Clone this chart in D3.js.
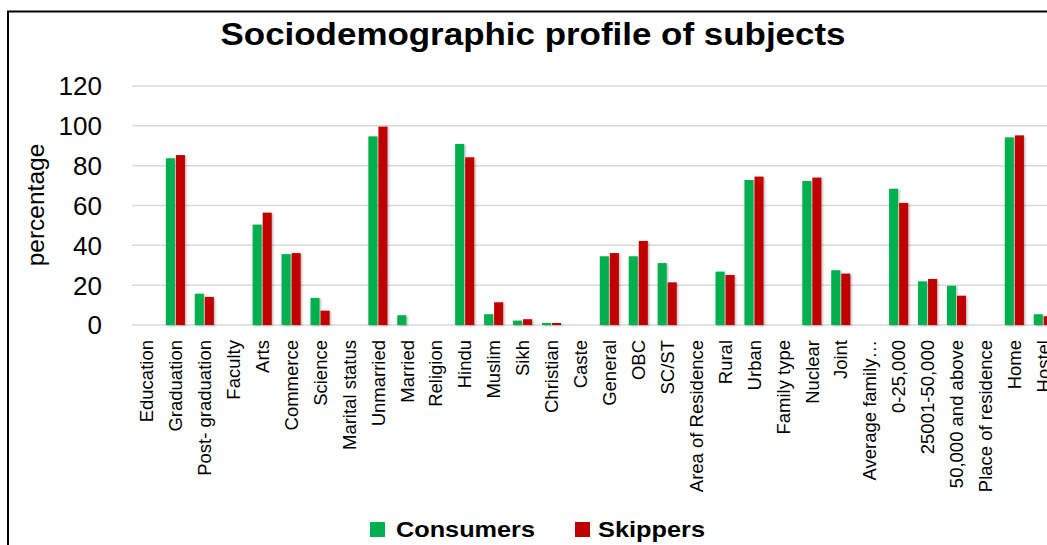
<!DOCTYPE html>
<html>
<head>
<meta charset="utf-8">
<script src="https://cdn.jsdelivr.net/npm/d3@7"></script>
<style>
  html, body { margin: 0; padding: 0; background: #fff; overflow: hidden; }
  svg { display: block; }
</style>
</head>
<body>
<svg id="chart" width="1047" height="545"></svg>
<script>
const categories = ["Education","Graduation","Post- graduation","Faculty","Arts","Commerce","Science",
  "Marital status","Unmarried","Married","Religion","Hindu","Muslim","Sikh","Christian","Caste",
  "General","OBC","SC/ST","Area of Residence","Rural","Urban","Family type","Nuclear","Joint",
  "Average family…","0-25,000","25001-50,000","50,000 and above","Place of residence","Home","Hostel"];
const consumers = [null,83.7,15.7,null,50.4,35.6,13.6,
  null,94.7,4.9,null,90.9,5.4,2.2,1.0,null,
  34.5,34.5,31.1,null,26.8,72.8,null,72.3,27.5,
  null,68.4,21.9,19.7,null,94.2,5.4];
const skippers = [null,85.3,14.1,null,56.4,36.1,7.2,
  null,99.6,null,null,84.2,11.4,2.9,1.0,null,
  36.1,42.2,21.4,null,25.1,74.5,null,74.0,25.8,
  null,61.3,23.1,14.7,null,95.2,4.4];
const seriesNames = ["Consumers","Skippers"];
const seriesColors = ["#00B050","#C00000"];
const yTicks = [0,20,40,60,80,100,120];
const titleText = "Sociodemographic profile of subjects";
const yLabel = "percentage";

const svg = d3.select("#chart");
const FONT = "'Liberation Sans', Arial, sans-serif";

// shadow filter
const defs = svg.append("defs");
const f = defs.append("filter").attr("id","sh").attr("x","-30%").attr("y","-10%").attr("width","160%").attr("height","130%");
f.append("feDropShadow").attr("dx",1.2).attr("dy",0.8).attr("stdDeviation",1.0)
  .attr("flood-color","#000").attr("flood-opacity",0.3);

// chart border
svg.append("rect").attr("x",8).attr("y",11.5).attr("width",1200).attr("height",700)
  .attr("fill","none").attr("stroke","#000").attr("stroke-width",2);

const step = 28.93;
const left = 132;
const x0 = d3.scaleBand().domain(categories).range([left, left + categories.length*step])
  .paddingInner(0.34).paddingOuter(0.17);
const x1 = d3.scaleBand().domain(seriesNames).range([0, x0.bandwidth()]).paddingInner(0.1);
const y = d3.scaleLinear().domain([0,120]).range([325, 86]);

// gridlines
svg.append("g").selectAll("line").data(yTicks).join("line")
  .attr("x1", left).attr("x2", 1200)
  .attr("y1", d => y(d)).attr("y2", d => y(d))
  .attr("stroke", "#D9D9D9").attr("stroke-width", 1.5);

// y tick labels
svg.append("g").selectAll("text").data(yTicks).join("text")
  .attr("x", 102).attr("y", d => y(d)).attr("dy","0.36em")
  .attr("text-anchor","end").attr("font-family",FONT).attr("font-size",26).attr("fill","#000")
  .text(d => d);

// y axis label
svg.append("text").attr("transform","translate(44,205) rotate(-90)")
  .attr("text-anchor","middle").attr("font-family",FONT).attr("font-size",24.5).attr("fill","#000")
  .text(yLabel);

// bars
const rows = categories.map((c,i) => ({cat:c, vals:[consumers[i], skippers[i]]}));
const g = svg.append("g").attr("filter","url(#sh)");
rows.forEach(r => {
  r.vals.forEach((v,k) => {
    if (v === null) return;
    g.append("rect")
      .attr("x", x0(r.cat) + x1(seriesNames[k]))
      .attr("width", x1.bandwidth())
      .attr("y", y(v))
      .attr("height", y(0) - y(v))
      .attr("fill", seriesColors[k]);
  });
});

// x labels
svg.append("g").selectAll("text").data(categories).join("text")
  .attr("transform", d => `translate(${x0(d) + x0.bandwidth()/2},340) rotate(-90)`)
  .attr("dy","0.36em").attr("text-anchor","end")
  .attr("font-family",FONT).attr("font-size",18.5).attr("fill","#000")
  .text(d => d);

// title
svg.append("text").attr("x",533).attr("y",45).attr("text-anchor","middle")
  .attr("font-family",FONT).attr("font-weight","bold").attr("font-size",32).attr("fill","#000")
  .attr("textLength",625).attr("lengthAdjust","spacingAndGlyphs")
  .text(titleText);

// legend
const legendPos = [{sx:370, tx:396, w:139},{sx:575, tx:598, w:107}];
const lg = svg.append("g");
seriesNames.forEach((n,k) => {
  lg.append("rect").attr("x",legendPos[k].sx).attr("y",522).attr("width",15).attr("height",15)
    .attr("fill",seriesColors[k]);
  lg.append("text").attr("x",legendPos[k].tx).attr("y",537)
    .attr("font-family",FONT).attr("font-weight","bold").attr("font-size",22).attr("fill","#000")
    .attr("textLength",legendPos[k].w).attr("lengthAdjust","spacingAndGlyphs")
    .text(n);
});
</script>
</body>
</html>
